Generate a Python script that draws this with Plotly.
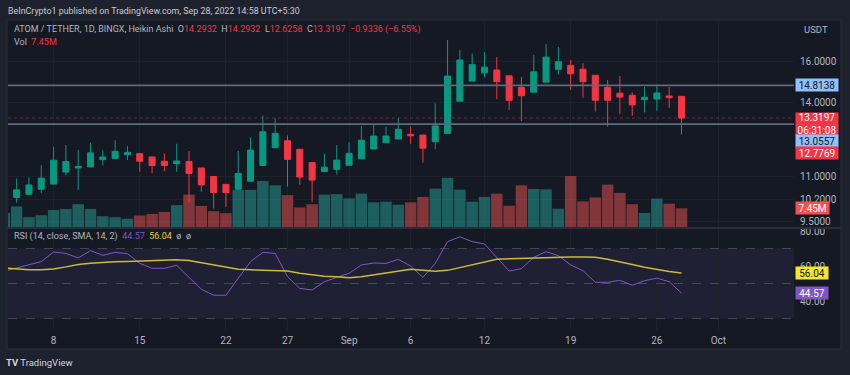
import math
import pandas as pd
import plotly.graph_objects as go

# ---------------- data ----------------
dates = pd.date_range("2022-08-04", "2022-09-28", freq="D")

open_ = [10.23, 10.28, 10.39, 10.56, 10.74, 11.17, 11.32, 11.36, 11.63, 11.67, 11.82,
         11.86, 11.73, 11.57, 11.48, 11.56, 11.32, 11.01, 10.73, 10.56, 10.84, 11.41,
         12.09, 12.37, 12.03, 11.52, 11.19, 11.27, 11.42, 11.66, 12.04, 12.29, 12.44,
         12.63, 12.60, 12.33, 12.66, 14.07, 15.02, 15.43, 15.57, 15.28, 14.72, 14.49,
         14.97, 15.61, 15.81, 15.61, 15.31, 14.72, 14.44, 14.34, 14.14, 14.17, 14.31, 14.2932]
high = [10.38, 10.94, 10.98, 11.42, 12.13, 12.20, 12.00, 12.29, 11.99, 12.39, 12.16,
        11.86, 11.73, 11.87, 12.25, 11.96, 11.32, 11.01, 10.73, 11.96, 12.51, 13.42,
        13.30, 12.58, 12.03, 11.52, 11.85, 12.20, 12.31, 12.98, 13.04, 12.95, 13.32,
        12.95, 12.60, 13.97, 17.17, 16.62, 16.43, 16.52, 16.24, 15.28, 15.23, 16.36,
        16.94, 16.79, 16.09, 15.92, 15.31, 15.07, 15.27, 14.48, 14.74, 14.87, 14.74, 14.2932]
low = [10.20, 10.11, 10.38, 10.43, 10.74, 11.05, 10.54, 11.36, 11.41, 11.66, 11.62,
       11.18, 11.13, 11.20, 11.18, 10.11, 10.48, 9.92, 9.97, 10.51, 10.84, 11.41,
       12.09, 10.65, 10.71, 10.14, 11.19, 11.08, 11.42, 11.66, 12.04, 12.29, 12.44,
       12.23, 11.52, 12.03, 12.66, 14.07, 15.02, 15.20, 14.17, 13.67, 13.19, 14.49,
       14.97, 15.35, 14.59, 14.23, 13.60, 12.95, 13.49, 13.42, 13.56, 13.64, 13.77, 12.6258]
close = [10.33, 10.54, 10.71, 10.95, 11.61, 11.56, 11.37, 11.89, 11.73, 11.95, 11.91,
         11.57, 11.41, 11.41, 11.58, 11.12, 10.71, 10.45, 10.45, 11.12, 12.00, 12.74,
         12.67, 11.64, 10.99, 10.88, 11.35, 11.61, 11.87, 12.39, 12.56, 12.56, 12.84,
         12.57, 12.07, 12.98, 15.27, 16.09, 15.85, 15.72, 14.99, 14.11, 14.32, 15.48,
         16.24, 16.00, 15.38, 14.99, 14.11, 14.11, 14.26, 13.90, 14.25, 14.45, 14.23, 13.3197]
volume_m = [5.6, 8.2, 3.9, 4.7, 6.8, 7.2, 9.1, 7.2, 4.3, 3.9, 3.3,
            4.6, 5.2, 6.0, 8.7, 12.9, 8.4, 6.3, 5.5, 14.8, 14.8, 18.3,
            16.6, 12.7, 7.8, 9.1, 12.9, 13.1, 11.4, 13.3, 9.8, 10.1, 8.9,
            9.8, 12.0, 15.3, 19.6, 14.9, 10.1, 12.0, 13.3, 8.5, 16.6, 15.2,
            15.0, 7.3, 20.3, 10.2, 11.8, 16.9, 13.6, 9.1, 5.6, 11.3, 9.3, 7.45]
rsi = [57.1, 59.0, 60.6, 62.5, 68.0, 67.2, 64.6, 68.8, 66.1, 67.8, 67.0,
       61.5, 58.7, 58.7, 60.4, 53.5, 46.7, 43.3, 43.3, 53.0, 62.5, 67.8,
       67.2, 53.9, 47.2, 46.3, 51.0, 53.5, 55.8, 60.6, 61.7, 61.5, 63.8,
       60.0, 53.5, 61.5, 73.9, 76.7, 73.9, 72.6, 65.0, 57.1, 58.5, 65.0,
       68.2, 65.9, 60.6, 57.3, 50.7, 50.7, 51.8, 49.0, 51.6, 53.1, 51.0, 44.57]
rsi_ma = [58.8, 58.3, 57.9, 57.8, 58.3, 59.5, 60.9, 61.6, 62.1, 62.4, 62.6,
          62.9, 63.1, 63.3, 63.6, 63.2, 62.0, 60.6, 59.2, 58.1, 57.8, 57.7,
          57.5, 57.1, 55.8, 54.8, 54.2, 53.9, 53.3, 53.9, 54.9, 56.0, 57.2,
          58.1, 57.6, 57.0, 57.5, 59.0, 60.6, 62.3, 63.8, 64.2, 64.4, 64.7,
          65.0, 65.1, 65.1, 65.1, 65.0, 63.8, 62.5, 60.9, 59.3, 58.0, 56.8, 56.04]

tick_dates = ["2022-08-08", "2022-08-15", "2022-08-22", "2022-08-27", "2022-09-01",
              "2022-09-06", "2022-09-12", "2022-09-19", "2022-09-26", "2022-10-01"]
tick_text = ["8", "15", "22", "27", "Sep", "6", "12", "19", "26", "Oct"]
price_ticks = [9.5, 10.2, 11, 14, 16]
price_tick_text = ["9.5000", "10.2000", "11.0000", "14.0000", "16.0000"]
rsi_ticks = [40, 60, 80]
rsi_tick_text = ["40.00", "60.00", "80.00"]
level_a = 14.8138
level_b = 13.0557
last_price = 13.3197
low_label = 12.7769

# ---------------- style ----------------
UP = "#089981"
DOWN = "#f23645"
CHART_BG = "#151924"
PAGE_BG = "#1e222d"
GRID = "#1d212c"
TXT = "#b2b5be"
FONT = "Roboto, Liberation Sans, sans-serif"
x_range = ["2022-08-04 07:10", "2022-10-07 03:20"]

vol_colors = ["rgba(38,166,154,0.5)" if c >= o else "rgba(239,83,80,0.5)"
              for o, c in zip(open_, close)]

fig = go.Figure()
fig.add_trace(go.Bar(x=dates, y=volume_m, marker=dict(color=vol_colors, line=dict(width=0)),
                     width=0.93 * 86400000, xaxis="x", yaxis="y", showlegend=False))
fig.add_trace(go.Candlestick(x=dates, open=open_, high=high, low=low, close=close,
                             xaxis="x", yaxis="y2", whiskerwidth=0,
                             increasing=dict(line=dict(color=UP, width=1), fillcolor=UP),
                             decreasing=dict(line=dict(color=DOWN, width=1), fillcolor=DOWN),
                             showlegend=False))
for lvl, col, dash, w in [(level_a, "#5d6a80", "solid", 1.6), (level_b, "#5d6a80", "solid", 1.6),
                          (last_price, "rgba(242,54,69,0.45)", "dot", 1)]:
    fig.add_trace(go.Scatter(x=x_range, y=[lvl, lvl], mode="lines", xaxis="x", yaxis="y2",
                             line=dict(color=col, width=w, dash=dash), showlegend=False,
                             hoverinfo="skip"))
fig.add_trace(go.Scatter(x=dates, y=rsi, mode="lines", xaxis="x2", yaxis="y3",
                         line=dict(color="#7e57c2", width=1), showlegend=False))
fig.add_trace(go.Scatter(x=dates, y=rsi_ma, mode="lines", xaxis="x2", yaxis="y3",
                         line=dict(color="#cdbb35", width=1.5), showlegend=False))

def px_x(px):
    return (px - 8) / 786.0

def px_y(py):
    return (330 - py) / 310.0

shapes = [
    dict(type="rect", xref="paper", yref="paper", x0=px_x(7), x1=px_x(841), y0=px_y(349), y1=px_y(20),
         fillcolor=CHART_BG, line=dict(color="#2a2e39", width=1), layer="below"),
    dict(type="rect", xref="paper", yref="y3", x0=0, x1=1, y0=30, y1=70,
         fillcolor="rgba(126,87,194,0.11)", line=dict(width=0), layer="below"),
    dict(type="line", xref="paper", yref="paper", x0=px_x(7), x1=px_x(841), y0=px_y(228), y1=px_y(228),
         line=dict(color="#2a2e39", width=2)),
]
for lv in [70, 50, 30]:
    shapes.append(dict(type="line", xref="paper", yref="y3", x0=0, x1=1, y0=lv, y1=lv,
                       line=dict(color="rgba(120,123,134,0.45)", width=1, dash="dash")))

red = "#f23645"
ann = [
    dict(text="BeInCrypto1 published on TradingView.com, Sep 28, 2022 14:58 UTC+5:30",
         x=px_x(6), y=px_y(11), xanchor="left", yanchor="middle", font=dict(size=8.9, color="#c8cbd3")),
    dict(text=("ATOM / TETHER, 1D, BINGX, Heikin Ashi  "
               f"O<span style='color:{red}'>14.2932</span>  H<span style='color:{red}'>14.2932</span>  "
               f"L<span style='color:{red}'>12.6258</span>  C<span style='color:{red}'>13.3197</span>  "
               f"<span style='color:{red}'>−0.9336 (−6.55%)</span>"),
         x=px_x(12), y=px_y(30), xanchor="left", yanchor="middle", font=dict(size=9.0, color=TXT)),
    dict(text=f"Vol  <span style='color:{red}'>7.45M</span>",
         x=px_x(12), y=px_y(42), xanchor="left", yanchor="middle", font=dict(size=9.0, color=TXT)),
    dict(text=("RSI (14, close, SMA, 14, 2)  <span style='color:#7e57c2'>44.57</span>  "
               "<span style='color:#e6d530'>56.04</span>  ø  ø"),
         x=px_x(12), y=px_y(236), xanchor="left", yanchor="middle", font=dict(size=9.0, color=TXT)),
    dict(text="USDT", x=px_x(802), y=px_y(29), xanchor="left", yanchor="middle",
         font=dict(size=9.5, color=TXT)),
    dict(text="<b>TV</b> TradingView", x=px_x(4), y=px_y(362), xanchor="left", yanchor="middle",
         font=dict(size=9.5, color="#d1d4dc")),
]
for ref, val, shift, txt, bg, fg, w, h, ya in [
    ("y2", level_a, 0, "14.8138", "#90bff9", "#131722", 42, 12, "middle"),
    ("y2", last_price, 6, "13.3197<br>06:31:08", "#f23645", "#ffffff", 42, 22, "top"),
    ("y2", level_b, -17, "13.0557", "#90bff9", "#131722", 42, 12, "middle"),
    ("y2", low_label, -22, "12.7769", "#f23645", "#ffffff", 42, 12, "middle"),
    ("y", 7.45, 0, "7.45M", "#ef5350", "#ffffff", 33, 12, "middle"),
    ("y3", 56.04, 0, "56.04", "#f5e52c", "#131722", 32, 12, "middle"),
    ("y3", 44.57, 0, "44.57", "#7e57c2", "#ffffff", 32, 12, "middle"),
]:
    yv = math.log10(val) if ref == "y2" else val
    ann.append(dict(text=txt, xref="paper", yref=ref, x=px_x(795), y=yv, yshift=shift,
                    xanchor="left", yanchor=ya, showarrow=False, bgcolor=bg, borderpad=0,
                    width=w, height=h, align="center", font=dict(size=10, color=fg)))
for a in ann:
    a.setdefault("xref", "paper")
    a.setdefault("yref", "paper")
    a.setdefault("showarrow", False)

fig.update_layout(
    width=850, height=375,
    margin=dict(l=8, r=56, t=20, b=45),
    paper_bgcolor=PAGE_BG, plot_bgcolor=CHART_BG,
    font=dict(family=FONT, color=TXT, size=10),
    showlegend=False,
    shapes=shapes, annotations=ann,
    xaxis=dict(domain=[0, 1], anchor="y", type="date", range=x_range, rangeslider=dict(visible=False),
               tickvals=tick_dates, ticktext=tick_text, showticklabels=False, showgrid=True,
               gridcolor=GRID, zeroline=False, showline=False, ticks=""),
    yaxis=dict(domain=[px_y(227), 1], range=[0, 82.5], visible=False, fixedrange=True),
    yaxis2=dict(overlaying="y", anchor="x", side="right", type="log",
                range=[math.log10(9.339), math.log10(18.328)],
                tickvals=price_ticks, ticktext=price_tick_text, showgrid=True, gridcolor=GRID,
                zeroline=False, showline=False, ticks="", tickfont=dict(size=10, color=TXT),
                ticklabelstandoff=5),
    xaxis2=dict(domain=[0, 1], anchor="y3", type="date", range=x_range, matches="x",
                tickvals=tick_dates, ticktext=tick_text, showgrid=True, gridcolor=GRID,
                zeroline=False, showline=False, ticks="", tickfont=dict(size=10, color=TXT),
                ticklabelstandoff=3),
    yaxis3=dict(domain=[0, px_y(229)], anchor="x2", side="right", range=[23.43, 81.14],
                tickvals=rsi_ticks, ticktext=rsi_tick_text, showgrid=False, zeroline=False,
                showline=False, ticks="", tickfont=dict(size=10, color=TXT), ticklabelstandoff=5),
)

fig.write_html("out.html", config={"displayModeBar": False},
               post_script="document.body.style.margin='0';document.body.style.background='#1e222d';")
